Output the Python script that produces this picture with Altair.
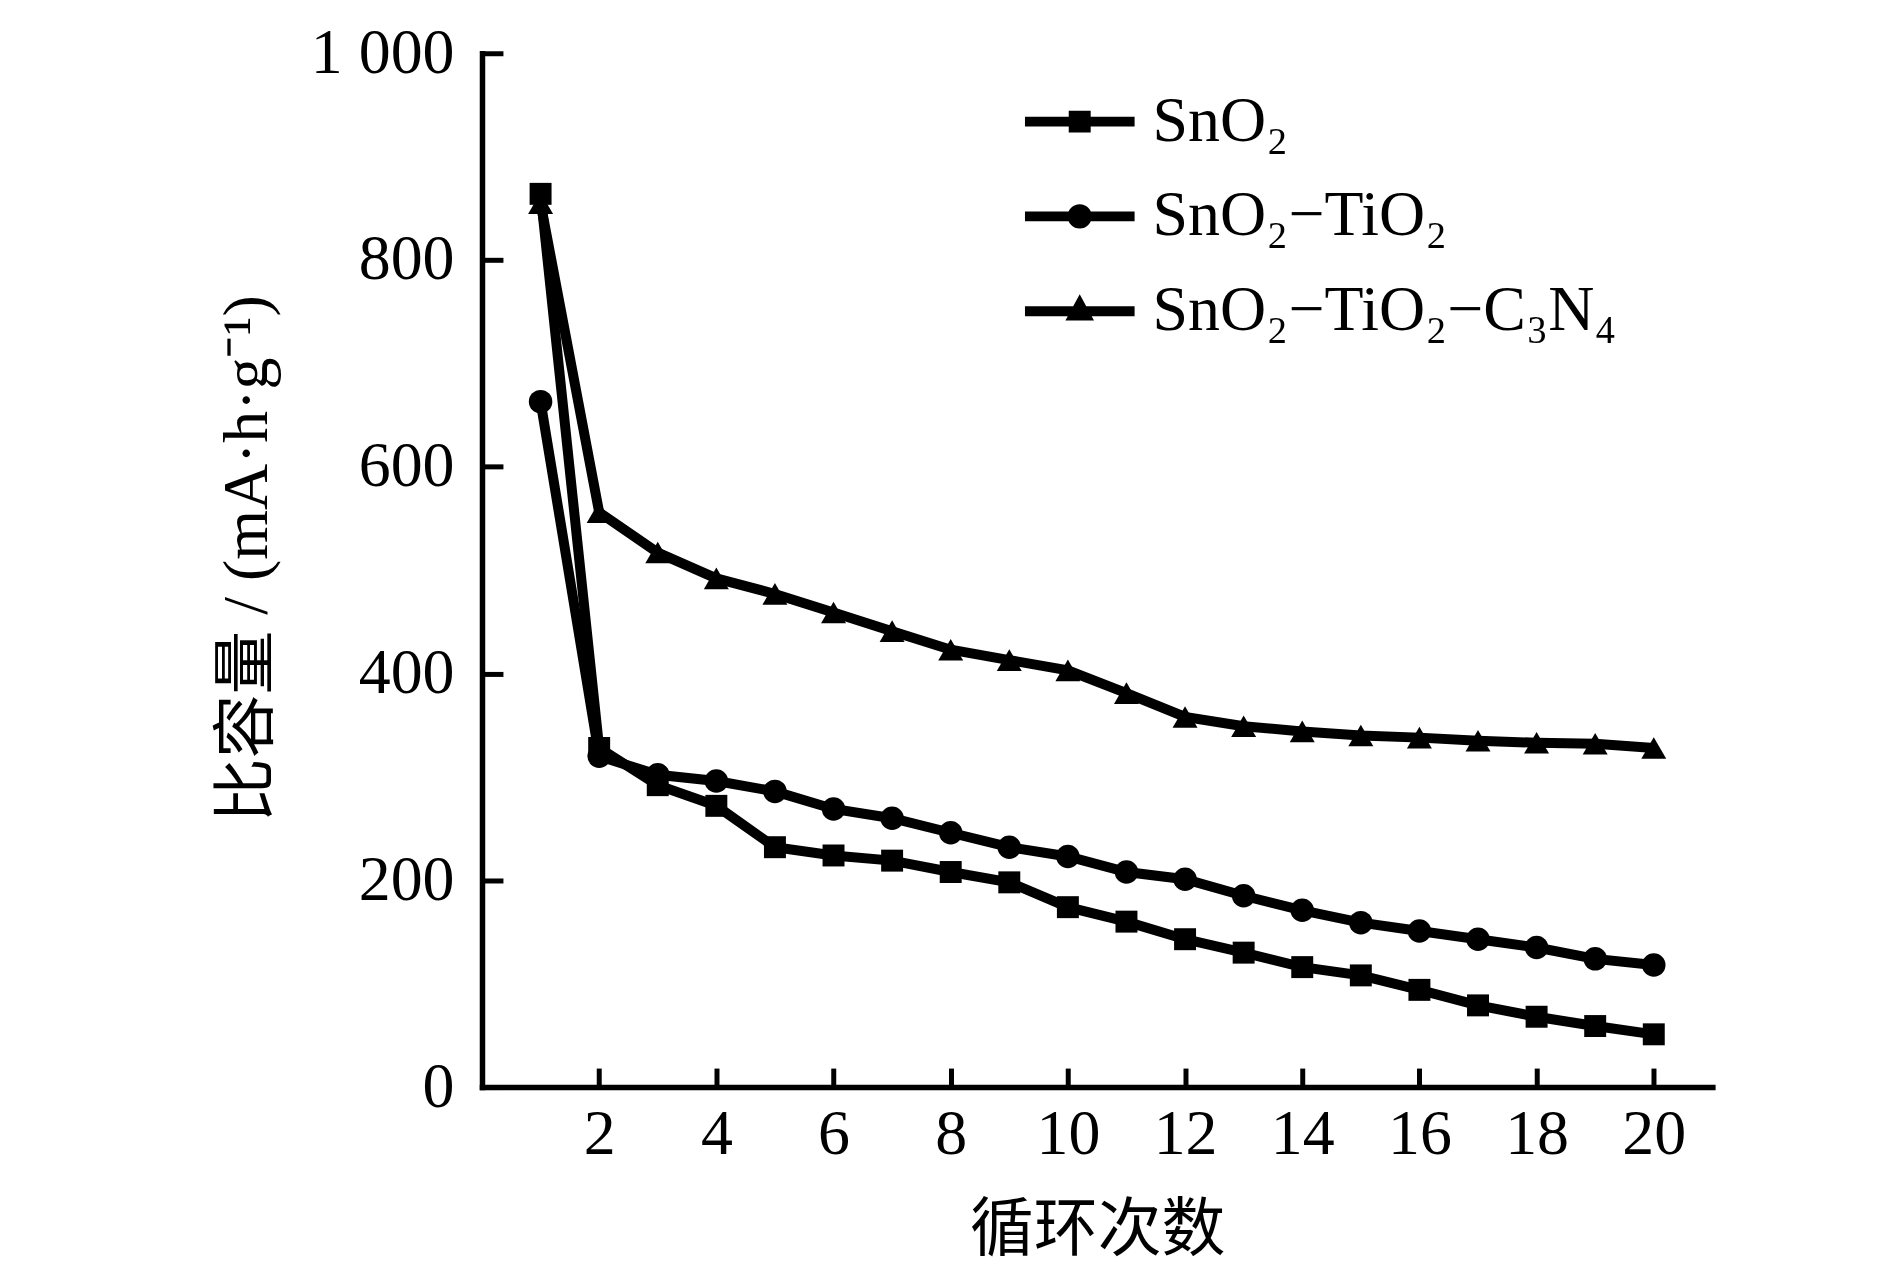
import altair as alt
import pandas as pd

# ---------------- data ----------------
cycles = list(range(1, 21))
sno2 = [864, 328, 292, 272, 232, 224, 219, 208, 198, 174,
        160, 143, 130, 116, 108, 94, 79, 68, 59, 51]
sno2_tio2 = [663, 320, 302, 296, 286, 269, 260, 246, 232, 223,
             208, 201, 185, 171, 159, 151, 143, 135, 124, 118]
sno2_tio2_c3n4 = [855, 556, 517, 492, 477, 459, 441, 423, 413, 403,
                  381, 358, 349, 344, 340, 338, 335, 333, 332, 328]
series_names = ["SnO₂", "SnO₂−TiO₂", "SnO₂−TiO₂−C₃N₄"]
x_ticks = [2, 4, 6, 8, 10, 12, 14, 16, 18, 20]
y_ticks = [0, 200, 400, 600, 800, 1000]
x_title = "循环次数"
y_title = "比容量 / (mA·h·g⁻¹)"

rows = []
for name, vals in zip(series_names, [sno2, sno2_tio2, sno2_tio2_c3n4]):
    for c, v in zip(cycles, vals):
        rows.append({"cycle": c, "capacity": v, "series": name})
df = pd.DataFrame(rows)

# ---------------- styling ----------------
W, H = 1233, 1036
FONT = "Liberation Serif, Times New Roman, Noto Sans CJK SC"
FS = 64
AXW = 5.5

xscale = alt.Scale(domain=[0, 21], nice=False, zero=False)
yscale = alt.Scale(domain=[0, 1000], nice=False, zero=False)

marker_shapes = ["square", "circle", "triangle-up"]
# legend symbols: line segment + marker, in the unit box [-1, 1]
bar = "M-1,-0.09H1V0.09H-1Z "
legend_paths = [
    bar + "M-0.2,-0.2H0.2V0.2H-0.2Z",
    bar + "M-0.22,0A0.22 0.22 0 1 1 0.22,0A0.22 0.22 0 1 1 -0.22,0Z",
    bar + "M-0.26,0.17L0,-0.31L0.26,0.17Z",
]

base = alt.Chart(df)

lines = base.mark_line(color="black", strokeWidth=10).encode(
    x=alt.X("cycle:Q", scale=xscale, axis=alt.Axis(
        orient="bottom", values=x_ticks, ticks=False, tickSize=0,
        labelPadding=16, labelFont=FONT, labelFontSize=FS, labelColor="black",
        labelFlush=False, labelBaseline="top",
        domain=True, domainWidth=AXW, domainColor="black", domainCap="square",
        grid=False, title=x_title, titleFont=FONT, titleFontSize=FS,
        titleFontWeight="normal", titleColor="black", titleY=144,
        titleBaseline="middle", titleAlign="center")),
    y=alt.Y("capacity:Q", scale=yscale, axis=alt.Axis(
        orient="left", values=y_ticks, ticks=False, tickSize=0,
        labelPadding=28, labelFont=FONT, labelFontSize=FS, labelColor="black",
        labelFlush=False, format="d",
        labelExpr="datum.value == 1000 ? '1 000' : datum.label",
        domain=True, domainWidth=AXW, domainColor="black", domainCap="square",
        grid=False, title=y_title, titleFont=FONT, titleFontSize=FS,
        titleFontWeight="normal", titleColor="black", titleAngle=270,
        titleX=-235, titleY=506, titleAlign="center", titleBaseline="middle")),
    detail="series:N",
)

points = base.mark_point(filled=True, opacity=1, color="black", strokeWidth=0).encode(
    x=alt.X("cycle:Q", scale=xscale, axis=alt.Axis(
        orient="top", offset=-H, values=x_ticks, ticks=True, tickSize=19,
        tickWidth=5, tickColor="black", labels=False, domain=False,
        grid=False, title=None)),
    y=alt.Y("capacity:Q", scale=yscale, axis=alt.Axis(
        orient="right", offset=-W, values=y_ticks, ticks=True, tickSize=21,
        tickWidth=5, tickColor="black", labels=False, domain=False,
        grid=False, title=None)),
    shape=alt.Shape("series:N", scale=alt.Scale(domain=series_names, range=marker_shapes),
                    legend=None),
    size=alt.Size("series:N", scale=alt.Scale(domain=series_names, range=[484, 625, 850]),
                  legend=None),
)

legend_layer = base.mark_point(filled=True, opacity=1, color="black").encode(
    x=alt.X("cycle:Q", scale=xscale, axis=None),
    y=alt.Y("capacity:Q", scale=yscale, axis=None),
    shape=alt.Shape("series:N", scale=alt.Scale(domain=series_names, range=legend_paths),
                    legend=alt.Legend(
                        orient="none", legendX=544, legendY=21, title=None,
                        padding=0, symbolSize=12100, symbolStrokeWidth=0,
                        symbolFillColor="black", symbolOpacity=1,
                        labelFont=FONT, labelFontSize=FS, labelColor="black",
                        labelOffset=18, labelLimit=1000, rowPadding=0,
                        clipHeight=95)),
).transform_filter("datum.cycle < 0")

chart = alt.layer(lines, points, legend_layer).resolve_axis(
    x="independent", y="independent"
).resolve_scale(shape="independent", size="independent").properties(
    width=W, height=H,
    autosize=alt.AutoSizeParams(type="none"),
    padding={"left": 475, "top": 44, "right": 170, "bottom": 180},
    background="white",
).configure_view(strokeOpacity=0)

chart.save("out.html", embed_options={"renderer": "svg", "actions": False})
